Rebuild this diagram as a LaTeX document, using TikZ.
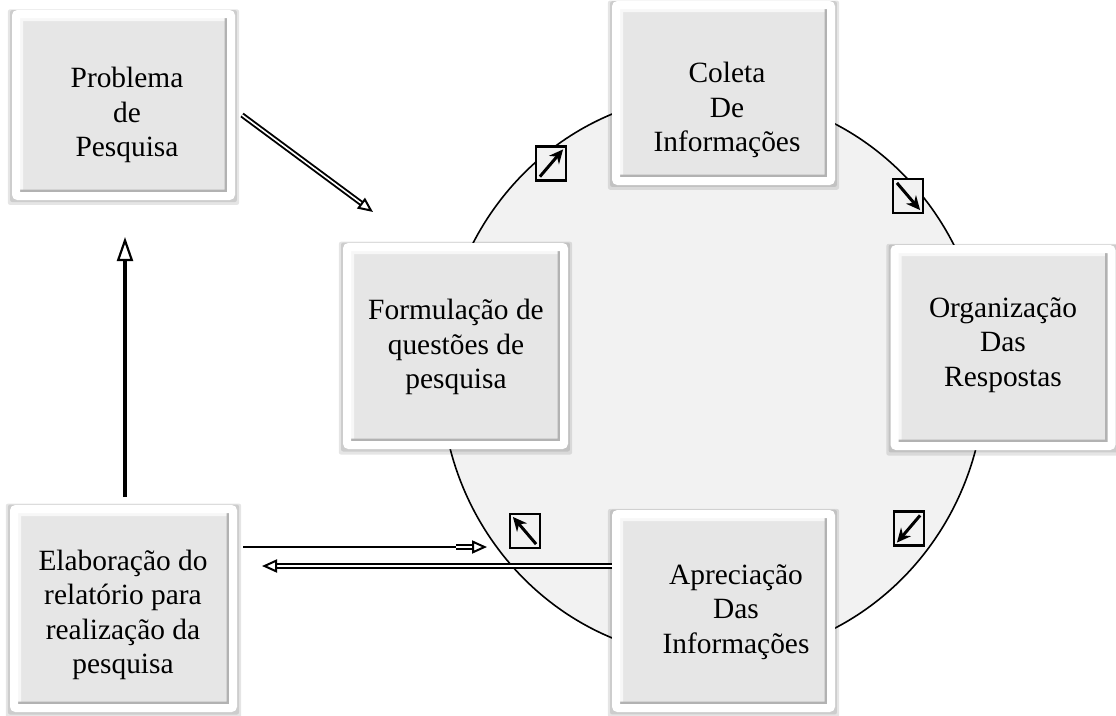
\documentclass[tikz,border=0pt]{standalone}
\usepackage{fontspec}
\setmainfont{Liberation Serif}
\usetikzlibrary{arrows.meta,shadows,calc}
\definecolor{boxgray}{HTML}{E6E6E6}
\definecolor{circgray}{HTML}{F2F2F2}
\newcommand\bigfont{\fontsize{29.4}{34.5}\selectfont}
\tikzset{
  bevbox/.style={rectangle, fill=boxgray, draw=white, line width=8pt, rounded corners=2pt,
    drop shadow={shadow xshift=0pt, shadow yshift=-2pt, shadow scale=1.075, opacity=.10, fill=black},
    drop shadow={shadow xshift=0pt, shadow yshift=-1pt, shadow scale=1.055, opacity=.10, fill=black},
    path picture={
      \draw[line width=14pt, black!3] (path picture bounding box.south west) |- (path picture bounding box.north east);
      \draw[line width=13pt, black!30] (path picture bounding box.south west) -| (path picture bounding box.north east);
    }},
  boxtext/.style={align=center, font=\bigfont, inner sep=0pt},
  smallbox/.style={rectangle, draw=black, line width=2.2pt, fill=circgray, minimum width=30pt, minimum height=34pt, inner sep=0pt},
  smallarrow/.style={line width=3pt, -{Stealth[length=14pt,width=13pt]}},
  dblarrow/.style={double, double distance=1.6pt, line width=1.9pt, -{Triangle[open,length=15pt,width=13pt,line width=2pt]}},
  thickarrow/.style={line width=3.8pt, -{Triangle[open,length=24pt,width=16pt,line width=2.2pt]}},
  thinline/.style={line width=1.5pt},
}
\begin{document}
\begin{tikzpicture}[x=1pt,y=-1pt]
\useasboundingbox[fill=white] (0,0) rectangle (1116,715);

% circle
\draw[line width=1.6pt, fill=circgray] (713,376) ellipse [x radius=272, y radius=282];

% small arrow boxes
\node[smallbox] (s1) at (551,163.5) {};
\node[smallbox] (s2) at (908,196) {};
\node[smallbox] (s3) at (909,528.5) {};
\node[smallbox] (s4) at (525,531) {};
\draw[smallarrow] ($(s1.south west)+(5pt,5pt)$) -- ($(s1.north east)+(-4pt,-4pt)$);
\draw[smallarrow] ($(s2.north west)+(5pt,-5pt)$) -- ($(s2.south east)+(-4pt,4pt)$);
\draw[smallarrow] ($(s3.north east)+(-5pt,-5pt)$) -- ($(s3.south west)+(4pt,4pt)$);
\draw[smallarrow] ($(s4.south east)+(-5pt,5pt)$) -- ($(s4.north west)+(4pt,-4pt)$);

% boxes
\node[bevbox, minimum width=215pt, minimum height=182pt] (prob) at (123.5,105) {};
\node[bevbox, minimum width=215pt, minimum height=176pt] (colt) at (723.5,93) {};
\node[bevbox, minimum width=217pt, minimum height=198pt] (form) at (455.5,346) {};
\node[bevbox, minimum width=217pt, minimum height=197pt] (orga) at (1003,347.5) {};
\node[bevbox, minimum width=219pt, minimum height=199pt] (elab) at (123.5,608.5) {};
\node[bevbox, minimum width=215pt, minimum height=194pt] (apre) at (723.5,611) {};

% texts
\node[boxtext] (probt) at (127,115) {Problema\\de\\Pesquisa};
\node[boxtext] (coltt) at (727,110) {Coleta\\De\\Informações};
\node[boxtext] (formt) at (456,347) {Formulação de\\questões de\\pesquisa};
\node[boxtext] (orgat) at (1003,345) {Organização\\Das\\Respostas};
\node[boxtext] (elabt) at (123,615) {Elaboração do\\relatório para\\realização da\\pesquisa};
\node[boxtext] (apret) at (736,612) {Apreciação\\Das\\Informações};

% connectors
\coordinate (c1) at (242,115);
\coordinate (c2) at (373,212);
\draw[dblarrow] (c1) -- (c2);

\coordinate (c3) at (125,497);
\coordinate (c4) at (125,237);
\draw[thickarrow] (c3) -- (c4);

\coordinate (c5) at (243,547);
\coordinate (c6) at (456,547);
\coordinate (c7) at (487,547);
\draw[thinline] (c5) -- (c6);
\draw[dblarrow] (c6) -- (c7);

\coordinate (c8) at (612,566);
\coordinate (c9) at (262,566);
\draw[dblarrow] (c8) -- (c9);
\end{tikzpicture}
\end{document}
